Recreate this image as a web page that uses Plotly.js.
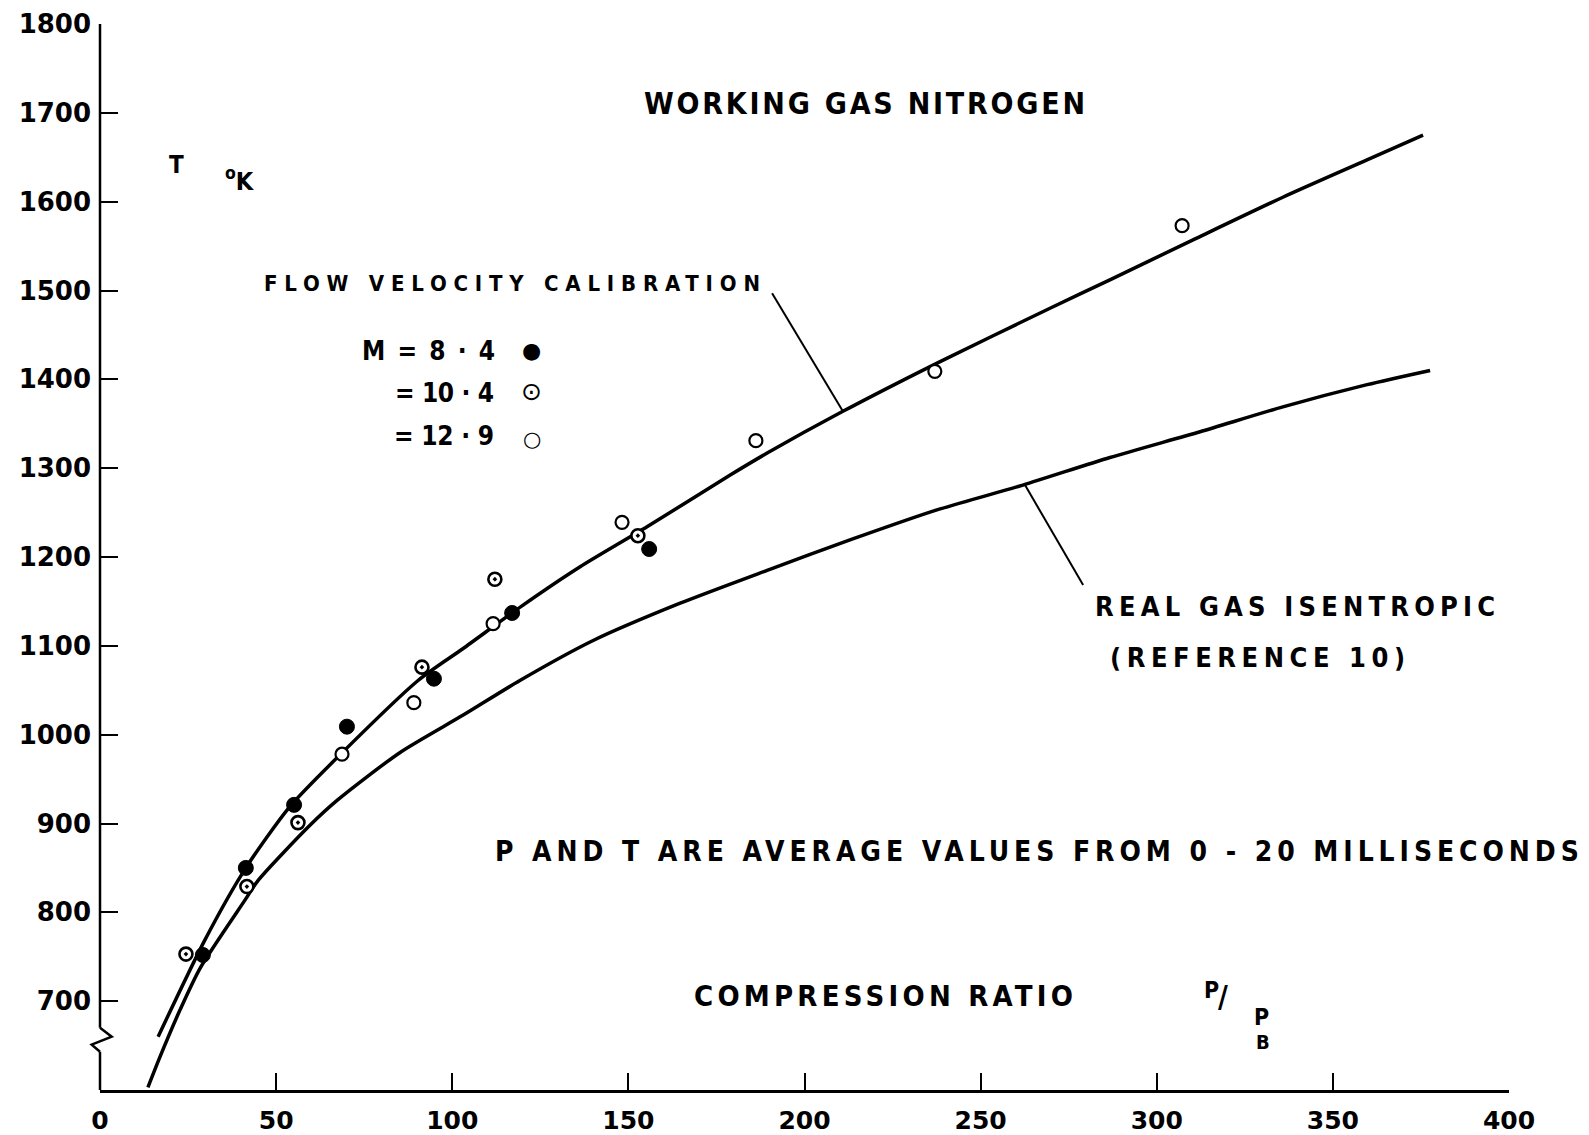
<!DOCTYPE html>
<html><head><meta charset="utf-8">
<script src="https://cdn.plot.ly/plotly-3.0.1.min.js"></script>
<style>html,body{margin:0;padding:0;background:#fff}#chart{width:1589px;height:1135px}</style>
</head><body><div id="chart"></div>
<script>
// ---- data ----
// Flow velocity calibration curve
const calibX = [16.5, 29.8, 41.4, 53.9, 67.3, 90.3, 103.1, 119.8, 136.3, 155.3, 178.8, 189.4, 210.9, 238.5, 269.7, 286.7, 310.3, 335.8, 359.7, 375.6];
const calibT = [660, 769, 850, 919, 974, 1061, 1097, 1145, 1189, 1234, 1292, 1317, 1364, 1420, 1480, 1512, 1557, 1605, 1647, 1675];
// Real gas isentropic (reference 10)
const isenX = [13.6, 17.0, 22.7, 28.4, 41.2, 44.9, 59.6, 67.3, 85.2, 103.1, 119.2, 140.0, 164.7, 189.4, 213.5, 237.6, 262.0, 286.7, 312.3, 335.8, 359.7, 377.6];
const isenT = [603, 637, 690, 737, 814, 836, 898, 926, 980, 1022, 1061, 1106, 1148, 1185, 1220, 1253, 1281, 1312, 1341, 1369, 1394, 1410];
// Measured points
const m84X = [29.2, 41.4, 55.1, 70.1, 94.8, 117.0, 155.9];
const m84T = [752, 850, 921, 1009, 1063, 1137, 1209];
const m104X = [24.4, 41.7, 56.2, 91.4, 112.1, 152.7];
const m104T = [753, 829, 901, 1076, 1175, 1224];
const m129X = [68.7, 89.1, 111.6, 148.2, 186.2, 237.0, 307.2];
const m129T = [978, 1036, 1125, 1239, 1331, 1409, 1573];
// Leader lines
const flowLeaderX = [190.8, 210.9];
const flowLeaderT = [1497, 1364];
const isenLeaderX = [262.6, 279.1];
const isenLeaderT = [1281, 1168.5];
// Axis ticks
const xTicks = [0, 50, 100, 150, 200, 250, 300, 350, 400];
const yTicks = [700, 800, 900, 1000, 1100, 1200, 1300, 1400, 1500, 1600, 1700, 1800];
const yTickText = ['700', '800', '900', '1000', '1100', '1200', '1300', '1400', '1500', '1600', '1700', '1800'];
// Axis break (zig-zag) levels on T axis
const breakT = [670, 660, 651, 643];

const FONT = "'Liberation Sans Narrow', 'DejaVu Sans Condensed', 'Liberation Sans', Arial, sans-serif";
const TICKFONT_Y = {family: "'DejaVu Sans', sans-serif", size: 26, color: '#000', weight: 'bold'};
const TICKFONT_X = {family: "'DejaVu Sans', sans-serif", size: 25, color: '#000', weight: 'bold'};

const lineStyle = {color: '#000', width: 3.5, shape: 'spline', smoothing: 0.7};
const traces = [
  {x: calibX, y: calibT, mode: 'lines', line: lineStyle, hoverinfo: 'skip'},
  {x: isenX, y: isenT, mode: 'lines', line: lineStyle, hoverinfo: 'skip'},
  {x: flowLeaderX, y: flowLeaderT, mode: 'lines', line: {color: '#000', width: 2}, hoverinfo: 'skip'},
  {x: isenLeaderX, y: isenLeaderT, mode: 'lines', line: {color: '#000', width: 2}, hoverinfo: 'skip'},
  {x: m84X, y: m84T, mode: 'markers', name: 'M = 8·4', marker: {symbol: 'circle', size: 15, color: '#000', line: {color: '#000', width: 1}}},
  {x: m104X, y: m104T, mode: 'markers', name: 'M = 10·4', marker: {symbol: 'circle-dot', size: 13, color: '#fff', line: {color: '#000', width: 2.6}}},
  {x: m129X, y: m129T, mode: 'markers', name: 'M = 12·9', marker: {symbol: 'circle', size: 13, color: '#fff', line: {color: '#000', width: 2.2}}}
];

// text labels: [text, x, T, font size, target width px]
const labels = [
  ['WORKING GAS NITROGEN', 153.9, 1711, 30, 441],
  ['FLOW VELOCITY CALIBRATION', 46.0, 1508, 22, 496],
  ['M = 8 · 4', 73.8, 1432, 26, 133],
  ['= 10 · 4', 83.2, 1385, 26, 99],
  ['= 12 · 9', 82.9, 1336, 26, 100],
  ['REAL GAS ISENTROPIC', 281.9, 1144, 27, 400],
  ['(REFERENCE 10)', 286.2, 1087, 27, 295],
  ['P AND T ARE AVERAGE VALUES FROM 0 - 20 MILLISECONDS', 111.7, 868, 28, 1084],
  ['COMPRESSION RATIO', 168.1, 706, 29, 379],
  ['T', 19.0, 1641, 24, 0],
  ['<sup>o</sup>K', 34.9, 1625, 25, 0],
  ['P', 312.8, 713, 23, 0],
  ['/', 316.8, 705, 30, 0],
  ['P', 327.0, 682, 23, 0],
  ['B', 327.6, 654, 20, 0]
];
const annotations = labels.map(l => ({
  text: l[0], x: l[1], y: l[2], xref: 'x', yref: 'y', xanchor: 'left', yanchor: 'middle', align: 'left',
  showarrow: false, font: {family: FONT, size: l[3], color: '#000', weight: 'bold'}
}));
// legend symbols (text glyphs)
const syms = [['\u25CF', 1433, 22], ['\u2299', 1386, 25], ['\u25CB', 1333, 21]];
syms.forEach(s => annotations.push({
  text: s[0], x: 122.6, y: s[1], xref: 'x', yref: 'y', xanchor: 'center', yanchor: 'middle', showarrow: false,
  font: {family: "'DejaVu Sans', sans-serif", size: s[2], color: '#000'}
}));

const shapes = [
  {type: 'line', xref: 'paper', yref: 'y', x0: 0, x1: 0, y0: breakT[0], y1: 1800, line: {color: '#000', width: 2.5}},
  {type: 'path', xref: 'paper', yref: 'y',
   path: `M 0 ${breakT[0]} L 0.0083 ${breakT[1]} L -0.0059 ${breakT[2]} L 0 ${breakT[3]}`, line: {color: '#000', width: 2.5}},
  {type: 'line', xref: 'paper', yref: 'y', x0: 0, x1: 0, y0: 600, y1: breakT[3], line: {color: '#000', width: 2.5}}
];

const layout = {
  width: 1589, height: 1135,
  margin: {l: 100, r: 80, t: 24, b: 45},
  paper_bgcolor: '#fff', plot_bgcolor: '#fff',
  showlegend: false,
  xaxis: {range: [0, 400], tickvals: xTicks, ticks: 'inside', ticklen: 17, tickwidth: 2, tickcolor: '#000',
          showline: true, linecolor: '#000', linewidth: 2.5, showgrid: false, zeroline: false,
          tickfont: TICKFONT_X, ticklabelstandoff: 6},
  yaxis: {range: [600, 1800], tickvals: yTicks, ticktext: yTickText, ticks: 'inside', ticklen: 18, tickwidth: 2, tickcolor: '#000',
          showline: false, showgrid: false, zeroline: false, tickfont: TICKFONT_Y, ticklabelstandoff: 8},
  annotations: annotations,
  shapes: shapes
};

Plotly.newPlot('chart', traces, layout, {staticPlot: true}).then(() => {
  labels.forEach((l, i) => {
    if (!l[4]) return;
    const t = document.querySelector('.annotation[data-index="' + i + '"] text.annotation-text');
    if (!t) return;
    const n = t.textContent.length;
    const L = t.getComputedTextLength();
    if (n > 1) t.style.letterSpacing = ((l[4] - L) / (n - 1)).toFixed(2) + 'px';
  });
});
</script>
</body></html>
